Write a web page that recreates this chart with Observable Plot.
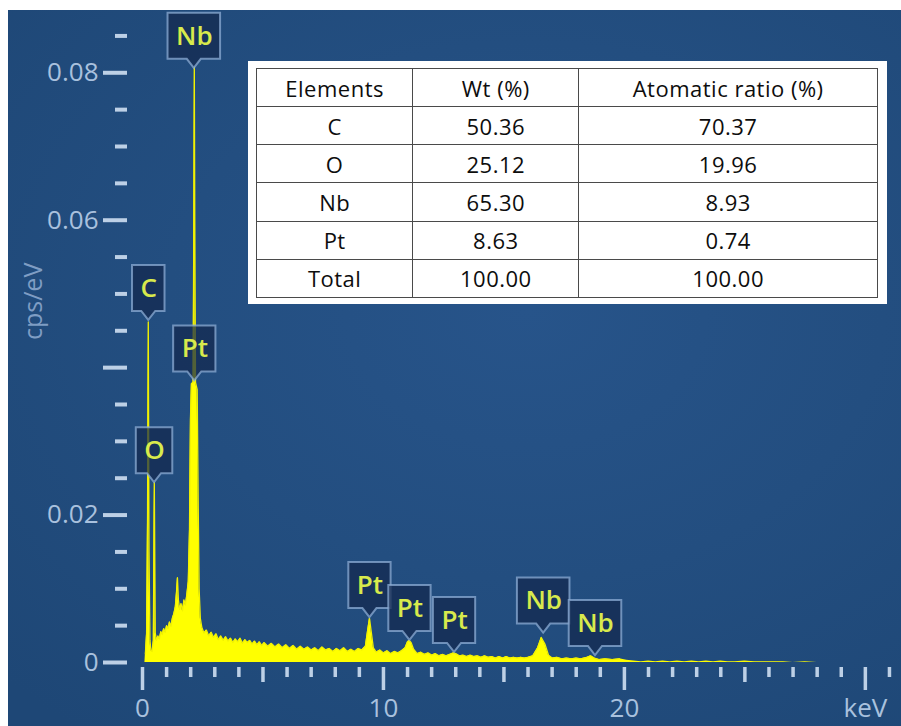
<!DOCTYPE html>
<html><head><meta charset="utf-8">
<script src="https://cdn.jsdelivr.net/npm/d3@7"></script>
<script src="https://cdn.jsdelivr.net/npm/@observablehq/plot@0.6"></script>
<style>
html,body{margin:0;padding:0;background:#fff;}
#fig{position:absolute;left:8px;top:10px;width:893px;height:716px;overflow:hidden;
  background:radial-gradient(ellipse 80% 75% at 58% 42%, #27548a 0%, #234e80 50%, #1e4776 100%);}
#fig svg{position:absolute;left:0;top:0;}
#tbl{position:absolute;left:240px;top:51px;width:639px;height:243px;background:#fff;}
#tbl table{position:absolute;left:8px;top:7px;width:622px;height:230px;border-collapse:collapse;
  font-family:'Open Sans',sans-serif;font-size:22px;letter-spacing:0.5px;color:#0d0d0d;}
#tbl td{border:1.5px solid #4a4a4a;text-align:center;padding:0;line-height:1;}
</style></head>
<body>
<div id="fig"><div id="chart"></div><div id="tbl"></div></div>
<script>
// ---------- data ----------
const spectrumKeV = [0,0.10,0.12,0.17,0.21,0.24,0.27,0.31,0.35,0.40,0.45,0.49,0.53,0.58,0.64,0.70,0.76,0.82,0.88,0.94,1.00,1.06,1.12,1.18,1.24,1.30,1.36,1.41,1.45,1.49,1.54,1.60,1.66,1.72,1.78,1.84,1.90,1.95,1.99,2.03,2.10,2.13,2.15,2.17,2.20,2.27,2.31,2.35,2.40,2.46,2.55,2.65,2.75,2.85,2.95,3.05,3.15,3.25,3.35,3.45,3.55,3.65,3.75,3.85,3.95,4.05,4.15,4.25,4.35,4.45,4.55,4.65,4.75,4.85,4.95,5.05,5.20,5.35,5.50,5.65,5.80,5.95,6.10,6.25,6.40,6.55,6.70,6.85,7.00,7.15,7.30,7.45,7.60,7.75,7.90,8.05,8.20,8.35,8.50,8.65,8.80,8.95,9.10,9.25,9.35,9.42,9.50,9.58,9.70,9.85,10.00,10.15,10.30,10.45,10.60,10.75,10.90,11.00,11.07,11.15,11.25,11.40,11.55,11.70,11.85,12.00,12.15,12.30,12.45,12.60,12.75,12.90,13.00,13.15,13.30,13.45,13.60,13.75,13.90,14.05,14.20,14.35,14.50,14.65,14.80,14.95,15.10,15.25,15.40,15.55,15.70,15.85,16.00,16.20,16.40,16.55,16.70,16.85,17.00,17.20,17.40,17.60,17.80,18.00,18.20,18.45,18.60,18.75,18.95,19.20,19.50,19.80,20.10,20.40,20.70,21.00,21.30,21.60,21.90,22.20,22.50,22.80,23.10,23.40,23.70,24.00,24.30,24.60,25.00,25.40,25.80,26.20,26.60,27.00,27.50,28.00,28.50,29.00,31.50];
const spectrumCps = [0,0,0.0012,0.0040,0.0200,0.0462,0.0150,0.0030,0.0016,0.0015,0.0030,0.0244,0.0040,0.0030,0.0036,0.0032,0.0042,0.0038,0.0046,0.0041,0.0050,0.0046,0.0055,0.0049,0.0060,0.0066,0.0075,0.0095,0.0115,0.0085,0.0072,0.0080,0.0070,0.0085,0.0078,0.0092,0.0110,0.0180,0.0330,0.0378,0.0380,0.0600,0.0808,0.0600,0.0380,0.0370,0.0220,0.0100,0.0060,0.0048,0.0040,0.0044,0.0036,0.0041,0.0034,0.0039,0.0031,0.0036,0.0030,0.0035,0.0029,0.0033,0.0027,0.0032,0.0028,0.0033,0.0026,0.0031,0.0027,0.0030,0.0025,0.0029,0.0024,0.0028,0.0023,0.0027,0.0022,0.0026,0.0021,0.0025,0.0020,0.0024,0.0019,0.0023,0.0018,0.0022,0.0018,0.0021,0.0017,0.0020,0.0016,0.0021,0.0017,0.0019,0.0015,0.0019,0.0016,0.0020,0.0015,0.0018,0.0015,0.0019,0.0017,0.0022,0.0045,0.0060,0.0040,0.0020,0.0014,0.0017,0.0013,0.0016,0.0012,0.0015,0.0013,0.0016,0.0020,0.0028,0.0030,0.0027,0.0018,0.0012,0.0014,0.0011,0.0013,0.0010,0.0012,0.0009,0.0011,0.0009,0.0011,0.0013,0.0012,0.0009,0.0010,0.0008,0.0010,0.0008,0.0009,0.0007,0.0009,0.0007,0.0008,0.0006,0.0008,0.0006,0.0008,0.0006,0.0007,0.0006,0.0007,0.0006,0.0007,0.0009,0.0020,0.0034,0.0025,0.0010,0.0006,0.0007,0.0005,0.0006,0.0005,0.0006,0.0005,0.0007,0.0009,0.0006,0.0004,0.0005,0.0004,0.0005,0.0003,0.0002,0.0001,0.0002,0.0001,0.0002,0.0001,0.0002,0.0001,0.0002,0.0001,0.0002,0.0001,0.0002,0.0001,0.0001,0.0002,0.0001,0.0001,0.0001,0.0001,0,0.0001,0,0,0,0,0,0];

const peakElements = ["Nb","C","Pt","O","Pt","Pt","Pt","Nb","Nb"];
const peakKeV      = [2.15, 0.26, 2.17, 0.50, 9.44, 11.10, 12.95, 16.65, 18.80];
const peakCps      = [0.0806, 0.0464, 0.0382, 0.0244, 0.0061, 0.0030, 0.00136, 0.0040, 0.00095];

const yMajorTicks = [0, 0.02, 0.04, 0.06, 0.08];
const yTickLabels = ["0", "0.02", "", "0.06", "0.08"];
const yMinorTicks = [0.005,0.01,0.015,0.025,0.03,0.035,0.045,0.05,0.055,0.065,0.07,0.075,0.085];
const xMajorTicks = [0, 10, 20, 30];
const xTickLabels = ["0", "10", "20", "keV"];
const xMidTicks   = [5, 15, 25];
const xMinorTicks = [1,2,3,4,6,7,8,9,11,12,13,14,16,17,18,19,21,22,23,24,26,27,28,29,31];
const yTitle = "cps/eV";

const tableHeader   = ["Elements", "Wt (%)", "Atomatic ratio (%)"];
const tableElements = ["C", "O", "Nb", "Pt", "Total"];
const tableWt       = ["50.36", "25.12", "65.30", "8.63", "100.00"];
const tableAtomic   = ["70.37", "19.96", "8.93", "0.74", "100.00"];

// ---------- chart ----------
const spectrum = spectrumKeV.map((k, i) => ({keV: k, cps: spectrumCps[i]}));
const spectrumLine = spectrum.filter(d => d.keV >= 0.12 && d.keV <= 20);
const peaks = peakElements.map((e, i) => ({el: e, keV: peakKeV[i], cps: peakCps[i]}));

const labelFont = "600 26px 'Open Sans'";
const ctx = document.createElement("canvas").getContext("2d");
ctx.font = labelFont;

function callouts(index, scales) {
  const g = d3.create("svg:g");
  for (const p of peaks) {
    const cx = scales.x(p.keV), ty = scales.y(p.cps);
    const w = ctx.measureText(p.el).width + 16, h = 46, nd = 9, nw = 7;
    const x0 = cx - w / 2, x1 = cx + w / 2, yb = ty - nd, yt = yb - h;
    g.append("path")
      .attr("d", `M${x0},${yt}H${x1}V${yb}H${cx + nw}L${cx},${ty}L${cx - nw},${yb}H${x0}Z`)
      .attr("fill", "rgba(20,40,78,0.72)")
      .attr("stroke", "rgba(140,172,212,0.75)")
      .attr("stroke-width", 2);
  }
  return g.node();
}

const tickColor = "#bdd0e6";
const textColor = "#a9c1de";

const chart = Plot.plot({
  width: 893, height: 716,
  marginLeft: 134, marginRight: 0, marginTop: 7, marginBottom: 64,
  x: {domain: [0, 31.5], label: null},
  y: {domain: [0, 0.0875], label: null},
  style: {background: "transparent", fontFamily: "'Open Sans', sans-serif", overflow: "visible"},
  marks: [
    Plot.areaY(spectrum, {x: "keV", y: "cps", fill: "#ffff00"}),
    Plot.lineY(spectrumLine, {x: "keV", y: "cps", stroke: "#f2f200", strokeWidth: 1.3}),
    callouts,
    Plot.text(peaks, {x: "keV", y: "cps", text: "el", dy: -32, fill: "#d8ea4c", fontSize: 26, fontWeight: 600}),
    Plot.axisY(yMajorTicks, {anchor: "left", tickSize: 24, tickPadding: 5, dx: -15,
      tickFormat: d => yTickLabels[yMajorTicks.indexOf(d)], stroke: tickColor, strokeWidth: 4,
      fill: textColor, fontSize: 26, label: null}),
    Plot.axisY(yMinorTicks, {anchor: "left", tickSize: 12, dx: -15, tickFormat: () => "",
      stroke: tickColor, strokeWidth: 4, label: null}),
    Plot.axisX(xMajorTicks, {anchor: "bottom", tickSize: 23, tickPadding: 8, dy: 5,
      tickFormat: d => xTickLabels[xMajorTicks.indexOf(d)], stroke: tickColor, strokeWidth: 3.5,
      fill: textColor, fontSize: 26, label: null}),
    Plot.axisX(xMidTicks, {anchor: "bottom", tickSize: 15, dy: 5, tickFormat: () => "",
      stroke: tickColor, strokeWidth: 3.5, label: null}),
    Plot.axisX(xMinorTicks, {anchor: "bottom", tickSize: 10, dy: 5, tickFormat: () => "",
      stroke: tickColor, strokeWidth: 3.5, label: null}),
    Plot.text([yTitle], {frameAnchor: "left", dx: -109, rotate: -90, fill: "#7f9dc4", fontSize: 25})
  ]
});
document.getElementById("chart").append(chart);

// ---------- table ----------
const tbl = document.createElement("table");
const rows = [tableHeader].concat(tableElements.map((e, i) => [e, tableWt[i], tableAtomic[i]]));
const colW = ["156px", "166px", "300px"];
rows.forEach(r => {
  const tr = tbl.insertRow();
  r.forEach((v, j) => { const td = tr.insertCell(); td.textContent = v; td.style.width = colW[j]; });
});
document.getElementById("tbl").append(tbl);
</script>
</body></html>
